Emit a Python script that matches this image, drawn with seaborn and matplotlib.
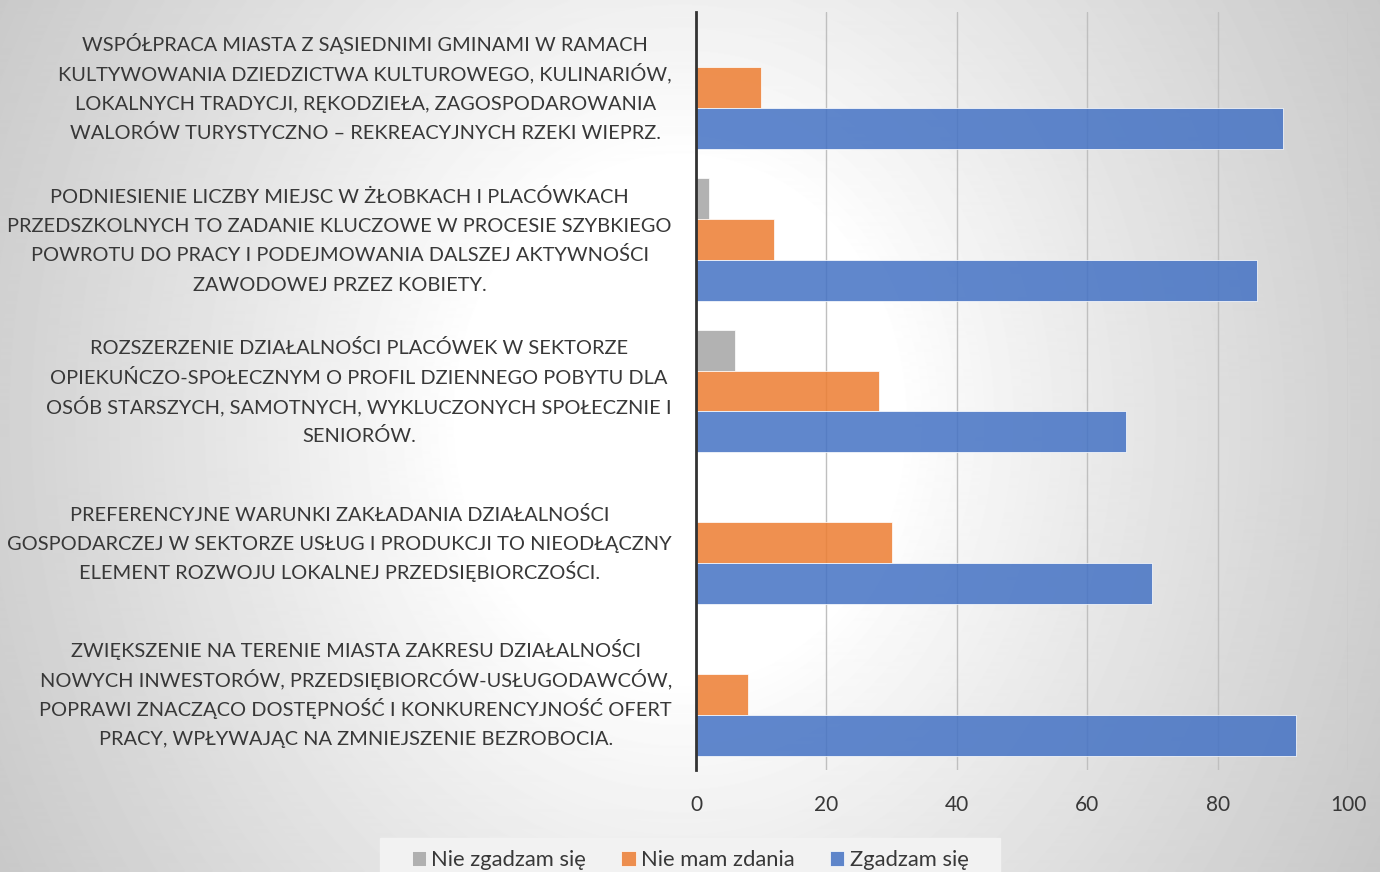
import numpy as np
import pandas as pd
import matplotlib.pyplot as plt
from matplotlib.patches import Rectangle
import seaborn as sns

# Dane
kategorie = [
    'WSPÓŁPRACA MIASTA Z SĄSIEDNIMI GMINAMI W RAMACH\nKULTYWOWANIA DZIEDZICTWA KULTUROWEGO, KULINARIÓW,\nLOKALNYCH TRADYCJI, RĘKODZIEŁA, ZAGOSPODAROWANIA\nWALORÓW TURYSTYCZNO – REKREACYJNYCH RZEKI WIEPRZ.',
    'PODNIESIENIE LICZBY MIEJSC W ŻŁOBKACH I PLACÓWKACH\nPRZEDSZKOLNYCH TO ZADANIE KLUCZOWE W PROCESIE SZYBKIEGO\nPOWROTU DO PRACY I PODEJMOWANIA DALSZEJ AKTYWNOŚCI\nZAWODOWEJ PRZEZ KOBIETY.',
    'ROZSZERZENIE DZIAŁALNOŚCI PLACÓWEK W SEKTORZE\nOPIEKUŃCZO-SPOŁECZNYM O PROFIL DZIENNEGO POBYTU DLA\nOSÓB STARSZYCH, SAMOTNYCH, WYKLUCZONYCH SPOŁECZNIE I\nSENIORÓW.',
    'PREFERENCYJNE WARUNKI ZAKŁADANIA DZIAŁALNOŚCI\nGOSPODARCZEJ W SEKTORZE USŁUG I PRODUKCJI TO NIEODŁĄCZNY\nELEMENT ROZWOJU LOKALNEJ PRZEDSIĘBIORCZOŚCI.',
    'ZWIĘKSZENIE NA TERENIE MIASTA ZAKRESU DZIAŁALNOŚCI\nNOWYCH INWESTORÓW, PRZEDSIĘBIORCÓW-USŁUGODAWCÓW,\nPOPRAWI ZNACZĄCO DOSTĘPNOŚĆ I KONKURENCYJNOŚĆ OFERT\nPRACY, WPŁYWAJĄC NA ZMNIEJSZENIE BEZROBOCIA.',
]
odpowiedzi = ['Nie zgadzam się', 'Nie mam zdania', 'Zgadzam się']
nie_zgadzam = [0, 2, 6, 0, 0]
nie_mam_zdania = [10, 12, 28, 30, 8]
zgadzam = [90, 86, 66, 70, 92]
kolory = ['#A5A5A5', '#ED7D31', '#4472C4']

df = pd.DataFrame({
    'kategoria': kategorie * 3,
    'odpowiedz': np.repeat(odpowiedzi, len(kategorie)),
    'wartosc': nie_zgadzam + nie_mam_zdania + zgadzam,
})

sns.set_theme(style='white')
plt.rcParams['font.family'] = ['Lato', 'DejaVu Sans']
tekst = '#383838'

fig = plt.figure(figsize=(13.8, 8.72), dpi=100)

# tlo z gradientem
bg = fig.add_axes([0, 0, 1, 1], zorder=-10)
yy, xx = np.mgrid[0:872, 0:1380]
d = np.sqrt((xx - 680) ** 2 + ((yy - 420) * 0.85) ** 2)
v = 255 - 58 * np.clip((d - 220) / 600, 0, 1) ** 0.9
bg.imshow(v, cmap='gray', vmin=0, vmax=255, aspect='auto', extent=[0, 1, 0, 1])
bg.set_xlim(0, 1)
bg.set_ylim(0, 1)
bg.axis('off')

ax = fig.add_axes([696 / 1380, 1 - 770 / 872, 652 / 1380, 758 / 872])
ax.set_facecolor('none')

sns.barplot(data=df, y='kategoria', x='wartosc', hue='odpowiedz', orient='h',
            hue_order=odpowiedzi, palette=kolory, saturation=1, alpha=0.85,
            width=0.81, gap=0, edgecolor='white', linewidth=0.6, ax=ax)

ax.set_xlim(0, 100)
ax.set_xticks([0, 20, 40, 60, 80, 100])
ax.xaxis.grid(True, color='#BFBFBF', linewidth=1.0)
ax.set_axisbelow(True)
ax.set_xlabel('')
ax.set_ylabel('')
for s in ['top', 'right', 'bottom']:
    ax.spines[s].set_visible(False)
ax.spines['left'].set_color('#333333')
ax.spines['left'].set_linewidth(2)
ax.tick_params(axis='x', length=0, pad=18, labelsize=15, labelcolor=tekst)
ax.tick_params(axis='y', length=0, labelleft=False)

# etykiety kategorii - kazda linia osobno, zeby odstepy byly rowne
renderer = fig.canvas.get_renderer()
odstep = 21.1  # pt
for i, kat in enumerate(kategorie):
    linie = kat.split('\n')
    teksty = [ax.annotate(l, xy=(0, i), xycoords=('axes fraction', 'data'),
                          xytext=(0, 0), textcoords='offset points',
                          ha='center', va='baseline', fontsize=14.4, color=tekst)
              for l in linie]
    szer = max(t.get_window_extent(renderer).width for t in teksty) * 72 / fig.dpi
    for j, t in enumerate(teksty):
        t.set_position((-17.3 - szer / 2, -(j - (len(linie) - 1) / 2) * odstep - 5.2))

# legenda
uchwyty, etykiety = ax.get_legend_handles_labels()
ax.get_legend().remove()
fig.add_artist(Rectangle((380 / 1380, 0), 620 / 1380, 34 / 872,
                         transform=fig.transFigure, color='#F2F2F2', zorder=0))
fig.legend(uchwyty, etykiety, loc='center', bbox_to_anchor=(0.5, 1 - 860 / 872),
           ncol=3, frameon=False, fontsize=15.8, labelcolor=tekst,
           handlelength=0.65, handleheight=0.65, handletextpad=0.25,
           columnspacing=1.6)

fig.savefig('out.png', dpi=100)
